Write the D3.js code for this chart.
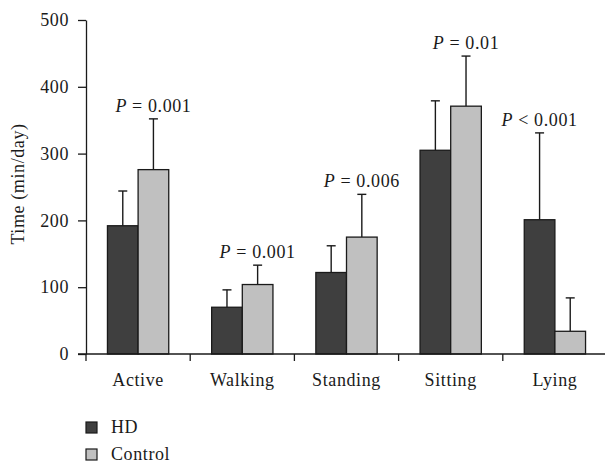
<!DOCTYPE html>
<html>
<head>
<meta charset="utf-8">
<script src="https://cdn.jsdelivr.net/npm/d3@7"></script>
<style>
  body { margin: 0; background: #fff; }
  svg text { fill: #1a1a1a; letter-spacing: 0.6px; }
</style>
</head>
<body>
<div id="chart"></div>
<script>
const width = 605
const height = 464

// data
const categories = ["Active", "Walking", "Standing", "Sitting", "Lying"]
const groups = ["HD", "Control"]
const hdMean = [192, 70, 122, 305, 201]
const hdSD = [52, 26, 40, 74, 130]
const ctlMean = [276, 104, 175, 371, 34]
const ctlSD = [76, 29, 64, 75, 50]
const pLabels = ["= 0.001", "= 0.001", "= 0.006", "= 0.01", "< 0.001"]
const yTicks = [0, 100, 200, 300, 400, 500]

const plotL = 86, plotR = 607, plotT = 20, plotB = 354
const fs = "18px"
const serif = "Liberation Serif"

const svg = d3.select("#chart")
  .append("svg")
    .attr("width", width)
    .attr("height", height)
    .attr("font-family", serif)

const color = d3.scaleOrdinal()
  .domain(groups)
  .range(["#3f3f3f", "#c0c0c0"])

const y = d3.scaleLinear()
  .domain([0, 500])
  .range([plotB, plotT])

const x0 = d3.scaleBand()
  .domain(categories)
  .range([plotL, plotR])

const x1 = d3.scaleBand()
  .domain(groups)
  .range([0, x0.bandwidth()])
  .paddingOuter(0.7)

const rows = categories.map((c, i) => ({
  cat: c,
  p: pLabels[i],
  vals: [
    {g: "HD", m: hdMean[i], sd: hdSD[i]},
    {g: "Control", m: ctlMean[i], sd: ctlSD[i]}
  ]
}))

// y axis
const yAxis = svg.append("g")
  .attr("transform", `translate(${plotL},0)`)
  .call(d3.axisLeft(y).tickValues(yTicks).tickSize(8).tickSizeOuter(0).tickPadding(9))
yAxis.attr("font-family", serif).attr("font-size", fs)
yAxis.selectAll("text").attr("fill", "#1a1a1a")
yAxis.selectAll("line, path").attr("stroke", "#1a1a1a").attr("stroke-width", 1.3)

svg.append("text")
  .attr("transform", `translate(24,184) rotate(-90)`)
  .attr("text-anchor", "middle")
  .attr("font-size", fs)
  .text("Time (min/day)")

// bars
const cat = svg.append("g").selectAll("g")
  .data(rows)
  .join("g")
    .attr("transform", d => `translate(${x0(d.cat)},0)`)

cat.selectAll("line.err")
  .data(d => d.vals)
  .join("line")
    .attr("class", "err")
    .attr("x1", d => x1(d.g) + x1.bandwidth() / 2)
    .attr("x2", d => x1(d.g) + x1.bandwidth() / 2)
    .attr("y1", d => y(d.m))
    .attr("y2", d => y(d.m + d.sd))
    .attr("stroke", "#1a1a1a")
    .attr("stroke-width", 1.4)

cat.selectAll("line.cap")
  .data(d => d.vals)
  .join("line")
    .attr("class", "cap")
    .attr("x1", d => x1(d.g) + x1.bandwidth() / 2 - 4.5)
    .attr("x2", d => x1(d.g) + x1.bandwidth() / 2 + 4.5)
    .attr("y1", d => y(d.m + d.sd))
    .attr("y2", d => y(d.m + d.sd))
    .attr("stroke", "#1a1a1a")
    .attr("stroke-width", 1.4)

cat.selectAll("rect")
  .data(d => d.vals)
  .join("rect")
    .attr("x", d => x1(d.g))
    .attr("y", d => y(d.m))
    .attr("width", x1.bandwidth())
    .attr("height", d => y(0) - y(d.m))
    .attr("fill", d => color(d.g))
    .attr("stroke", "#1a1a1a")
    .attr("stroke-width", 1.3)

// p values above the taller error bar
const pt = cat.append("text")
  .attr("text-anchor", "middle")
  .attr("font-size", fs)
  .attr("x", d => {
    const hi = d3.greatest(d.vals, v => v.m + v.sd)
    return x1(hi.g) + x1.bandwidth() / 2
  })
  .attr("y", d => y(d3.max(d.vals, v => v.m + v.sd)) - 7)
pt.append("tspan").attr("font-style", "italic").text("P")
pt.append("tspan").text(d => " " + d.p)

// x axis
svg.append("line")
  .attr("x1", plotL - 8).attr("x2", width)
  .attr("y1", plotB).attr("y2", plotB)
  .attr("stroke", "#1a1a1a").attr("stroke-width", 1.3)

svg.append("g").selectAll("line")
  .data(categories)
  .join("line")
    .attr("x1", d => x0(d)).attr("x2", d => x0(d))
    .attr("y1", plotB).attr("y2", plotB + 7)
    .attr("stroke", "#1a1a1a").attr("stroke-width", 1.3)

svg.append("g").selectAll("text")
  .data(categories)
  .join("text")
    .attr("x", d => x0(d) + x0.bandwidth() / 2)
    .attr("y", plotB + 32)
    .attr("text-anchor", "middle")
    .attr("font-size", fs)
    .text(d => d)

// legend
const leg = svg.append("g").selectAll("g")
  .data(groups)
  .join("g")
    .attr("transform", (d, i) => `translate(86,${422 + i * 27})`)
leg.append("rect")
  .attr("width", 11).attr("height", 11)
  .attr("fill", d => color(d))
  .attr("stroke", "#1a1a1a").attr("stroke-width", 1.2)
leg.append("text")
  .attr("x", 25).attr("y", 11)
  .attr("font-size", fs)
  .text(d => d)
</script>
</body>
</html>
